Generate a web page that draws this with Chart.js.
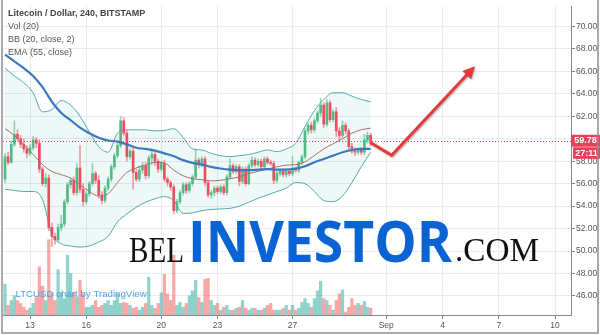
<!DOCTYPE html>
<html>
<head>
<meta charset="utf-8">
<script src="https://cdn.jsdelivr.net/npm/chart.js@4.4.0/dist/chart.umd.min.js"></script>
<style>
  html, body { margin: 0; padding: 0; background: #fff; }
  #wrap { width: 600px; height: 335px; }
</style>
</head>
<body>
<div id="wrap"><canvas id="chart" width="600" height="335"></canvas></div>
<script>
// 4h candles, first one at Aug 11 16:00 (x axis unit = day of August)
const startDay = 11 + 4 / 6;

const opens = [
  56.4, 58.4, 57.9, 59.5, 60.4, 60.0, 59.5, 59.1, 58.7, 59.2,
  59.9, 59.6, 57.3, 56.0, 56.5, 52.1, 51.3, 51.0, 52.1, 52.4,
  54.4, 55.9, 56.3, 55.2, 57.4, 55.5, 54.4, 55.1, 56.0, 56.9,
  56.3, 55.0, 54.5, 55.6, 56.4, 57.5, 58.5, 59.4, 61.6, 60.5,
  58.4, 58.9, 57.0, 56.4, 57.2, 57.6, 56.7, 58.3, 58.6, 58.0,
  57.3, 57.8, 56.4, 56.1, 55.7, 53.6, 54.4, 55.2, 55.9, 55.4,
  56.0, 56.6, 58.1, 57.7, 58.2, 56.1, 55.0, 55.2, 55.6, 55.3,
  55.7, 55.2, 56.6, 57.6, 57.1, 57.5, 56.2, 57.3, 56.0, 57.6,
  58.1, 57.7, 58.0, 57.5, 58.2, 57.9, 57.8, 56.3, 56.9, 57.1,
  56.8, 57.1, 56.9, 57.3, 57.2, 57.9, 58.4, 60.7, 61.2, 60.8,
  61.6, 62.3, 63.0, 61.3, 63.2, 61.7, 62.4, 60.7, 60.3, 61.2,
  60.7, 59.3, 58.9, 58.8, 59.0, 58.8, 59.9, 60.3
];
const highs = [
  58.7, 58.8, 59.8, 61.6, 60.8, 60.3, 60.0, 59.4, 59.5, 60.2,
  60.1, 59.9, 57.5, 56.9, 56.8, 52.5, 51.6, 52.4, 53.2, 54.6,
  56.1, 56.5, 56.6, 57.8, 59.4, 56.0, 55.3, 56.2, 57.8, 57.1,
  56.7, 55.3, 55.8, 56.6, 57.7, 58.7, 59.6, 62.0, 61.9, 60.7,
  59.1, 59.2, 57.3, 57.6, 57.9, 57.9, 58.5, 59.1, 58.8, 58.2,
  58.0, 58.1, 56.6, 56.3, 55.9, 54.6, 55.4, 56.1, 56.1, 56.2,
  56.8, 59.1, 58.3, 58.4, 58.4, 56.3, 55.4, 55.8, 55.8, 55.9,
  55.9, 56.8, 58.2, 57.8, 57.7, 57.7, 57.5, 57.5, 57.8, 58.4,
  58.3, 58.2, 58.2, 58.4, 58.4, 58.1, 58.0, 57.1, 57.3, 57.3,
  57.3, 57.3, 58.4, 57.5, 58.0, 58.6, 60.9, 61.4, 61.5, 61.8,
  62.5, 63.6, 63.2, 63.5, 63.4, 62.6, 62.8, 61.0, 61.6, 61.4,
  60.9, 59.6, 59.2, 59.2, 59.2, 60.4, 60.6, 60.5
];
const lows = [
  56.1, 57.7, 57.8, 59.3, 59.8, 59.2, 58.8, 58.3, 58.5, 59.0,
  59.2, 57.0, 55.8, 55.7, 51.8, 50.4, 50.6, 50.8, 51.8, 52.2,
  54.2, 55.6, 55.0, 55.0, 55.2, 54.0, 54.2, 54.9, 55.8, 56.0,
  54.7, 54.2, 54.3, 55.4, 56.2, 57.3, 58.3, 59.2, 60.3, 58.0,
  58.2, 55.5, 56.2, 56.2, 56.9, 56.4, 56.5, 57.7, 57.6, 57.0,
  57.1, 56.2, 55.8, 55.4, 53.3, 53.4, 54.2, 55.0, 55.1, 55.2,
  55.8, 56.4, 57.4, 57.5, 55.8, 54.8, 54.7, 54.9, 55.1, 55.1,
  55.0, 55.0, 56.4, 56.9, 56.9, 55.8, 56.0, 55.8, 55.9, 57.4,
  57.5, 57.5, 57.3, 57.4, 57.7, 57.6, 56.0, 56.1, 56.7, 56.6,
  56.6, 56.7, 56.7, 57.0, 57.0, 57.7, 58.2, 60.4, 60.5, 60.6,
  61.4, 62.0, 61.0, 61.1, 61.5, 61.5, 60.2, 59.9, 60.1, 60.4,
  59.0, 58.7, 58.5, 58.6, 58.6, 58.6, 59.6, 59.4
];
const closes = [
  58.4, 57.9, 59.5, 60.4, 60.0, 59.5, 59.1, 58.7, 59.2, 59.9,
  59.6, 57.3, 56.0, 56.5, 52.1, 51.3, 51.0, 52.1, 52.4, 54.4,
  55.9, 56.3, 55.2, 57.4, 55.5, 54.4, 55.1, 56.0, 56.9, 56.3,
  55.0, 54.5, 55.6, 56.4, 57.5, 58.5, 59.4, 61.6, 60.5, 58.4,
  58.9, 57.0, 56.4, 57.2, 57.6, 56.7, 58.3, 58.6, 58.0, 57.3,
  57.8, 56.4, 56.1, 55.7, 53.6, 54.4, 55.2, 55.9, 55.4, 56.0,
  56.6, 58.1, 57.7, 58.2, 56.1, 55.0, 55.2, 55.6, 55.3, 55.7,
  55.2, 56.6, 57.6, 57.1, 57.5, 56.2, 57.3, 56.0, 57.6, 58.1,
  57.7, 58.0, 57.5, 58.2, 57.9, 57.8, 56.3, 56.9, 57.1, 56.8,
  57.1, 56.9, 57.3, 57.2, 57.9, 58.4, 60.7, 61.2, 60.8, 61.6,
  62.3, 63.0, 61.3, 63.2, 61.7, 62.4, 60.7, 60.3, 61.2, 60.7,
  59.3, 58.9, 58.8, 59.0, 58.8, 59.9, 60.3, 59.78
];
const volumes = [
  32, 10, 15, 20, 15, 12, 8, 5, 7, 12,
  18, 50, 30, 15, 78, 23, 15, 47, 23, 17,
  62, 43, 23, 18, 36, 22, 8, 8, 10, 15,
  8, 10, 12, 15, 10, 15, 22, 12, 13, 12,
  10, 7, 8, 5, 8, 12, 39, 10, 7, 12,
  23, 42, 22, 15, 62, 10, 13, 8, 12, 20,
  25, 36, 18, 13, 37, 38, 15, 10, 12, 5,
  8, 10, 5, 5, 7, 8, 15, 7, 5, 7,
  7, 5, 5, 7, 10, 12, 5, 5, 5, 7,
  10, 5, 10, 5, 7, 13, 17, 12, 8, 17,
  25, 35, 17, 15, 10, 5, 15, 22, 26, 3,
  8, 17, 10, 12, 10, 14, 8, 7
];

// indicators read every 3 candles (half a day)
const bbUpper = [
  66.3, 65.6, 65.0, 64.1, 62.4, 62.6, 63.4, 63.0, 62.0, 60.6,
  59.3, 58.8, 60.5, 60.8, 60.8, 60.8, 60.7, 60.75, 60.9, 60.1,
  59.1, 59.0, 58.7, 58.5, 58.4, 58.5, 58.6, 58.8, 59.0, 58.85,
  59.1, 59.6, 61.1, 62.5, 63.5, 64.1, 64.1, 63.8, 63.5, 63.3
];
const bbBasis = [
  60.9, 60.3, 59.5, 58.6, 57.7, 57.1, 56.8, 56.5, 55.9, 55.3,
  54.9, 55.1, 56.1, 57.0, 57.4, 57.65, 57.9, 57.85, 57.2, 56.7,
  56.45, 56.35, 56.25, 56.3, 56.45, 56.6, 56.9, 57.1, 57.3, 57.5,
  57.65, 57.7, 57.95, 58.5, 59.1, 59.55, 60.0, 60.5, 60.8, 60.95
];
const bbLower = [
  55.5, 55.4, 55.3, 55.3, 54.6, 51.5, 50.65, 50.45, 50.35, 50.45,
  50.8, 51.3, 52.6, 53.3, 53.9, 54.35, 54.65, 54.85, 54.5, 53.35,
  53.4, 53.6, 53.7, 53.75, 53.8, 54.0, 54.35, 54.7, 55.0, 55.3,
  55.6, 56.1, 56.0, 55.3, 54.5, 54.4, 54.9, 56.1, 57.5, 58.8
];
const ema55 = [
  67.5, 66.9, 66.3, 65.6, 64.6, 63.3, 62.3, 61.65, 61.0, 60.5,
  60.1, 59.85, 59.75, 59.5, 59.2, 59.1, 58.95, 58.7, 58.45, 58.1,
  57.85, 57.7, 57.5, 57.35, 57.25, 57.2, 57.2, 57.25, 57.3, 57.25,
  57.25, 57.35, 57.55, 57.9, 58.2, 58.5, 58.8, 59.0, 59.1, 59.1
];

const yTicks = [46, 48, 50, 52, 54, 56, 58, 60, 62, 64, 66, 68, 70];
const xTickDays = [13, 16, 20, 23, 27, 32, 35, 38, 41];
const xTickLabels = ['13', '16', '20', '23', '27', 'Sep', '4', '7', '10'];

const lastPrice = 59.78;
const countdown = '27:11';
const arrowDays = [31.13, 32.29, 36.73];
const arrowPrices = [59.69, 58.52, 66.46];

const UP = '#53b987';
const DOWN = '#eb4d5c';
const RED = '#e8415a';
const FONT = '"Liberation Sans", Arial, sans-serif';

const candleDay = i => startDay + i / 6;
const lineDay = k => startDay + k / 2;
const isUp = i => closes[i] >= opens[i];

const overlay = {
  id: 'overlay',
  afterDatasetsDraw(chart) {
    const { ctx, chartArea: a, scales: { x, y } } = chart;

    // last price dotted line
    const py = Math.round(y.getPixelForValue(lastPrice)) + 0.5;
    ctx.save();
    ctx.strokeStyle = RED;
    ctx.lineWidth = 1;
    ctx.setLineDash([1, 2]);
    ctx.beginPath();
    ctx.moveTo(a.left, py);
    ctx.lineTo(a.right, py);
    ctx.stroke();
    ctx.restore();

    // forecast arrow
    const pts = arrowDays.map((d, i) => [x.getPixelForValue(d), y.getPixelForValue(arrowPrices[i])]);
    const tip = pts[pts.length - 1];
    const prev = pts[pts.length - 2];
    const len = Math.hypot(tip[0] - prev[0], tip[1] - prev[1]);
    const ux = (tip[0] - prev[0]) / len, uy = (tip[1] - prev[1]) / len;
    const head = 12, half = 6;
    const bx = tip[0] - ux * head, by = tip[1] - uy * head;
    ctx.save();
    ctx.shadowColor = 'rgba(0,0,0,0.3)';
    ctx.shadowBlur = 2;
    ctx.shadowOffsetX = 1;
    ctx.shadowOffsetY = 1;
    ctx.strokeStyle = '#e53b3b';
    ctx.fillStyle = '#e53b3b';
    ctx.lineWidth = 3;
    ctx.lineJoin = 'miter';
    ctx.beginPath();
    ctx.moveTo(pts[0][0], pts[0][1]);
    for (let i = 1; i < pts.length - 1; i++) ctx.lineTo(pts[i][0], pts[i][1]);
    ctx.lineTo(bx + ux * 2, by + uy * 2);
    ctx.stroke();
    ctx.beginPath();
    ctx.moveTo(tip[0], tip[1]);
    ctx.lineTo(bx - uy * half, by + ux * half);
    ctx.lineTo(bx + uy * half, by - ux * half);
    ctx.closePath();
    ctx.fill();
    ctx.restore();
  },
  afterDraw(chart) {
    const { ctx, scales: { y } } = chart;
    ctx.save();

    // legend
    ctx.textBaseline = 'middle';
    ctx.textAlign = 'left';
    ctx.fillStyle = '#444';
    ctx.font = 'bold 9px ' + FONT;
    ctx.fillText('Litecoin / Dollar, 240, BITSTAMP', 8, 14);
    ctx.fillStyle = '#555';
    ctx.font = '9px ' + FONT;
    ctx.fillText('Vol (20)', 8, 26.5);
    ctx.fillText('BB (20, close, 2)', 8, 39.5);
    ctx.fillText('EMA (55, close)', 8, 52.5);

    ctx.fillStyle = '#4aa3e4';
    ctx.font = '9.7px ' + FONT;
    ctx.fillText('LTCUSD chart by TradingView', 15.5, 294);

    // watermark
    const word = (text, font, color, left, base, width) => {
      ctx.font = font;
      ctx.fillStyle = color;
      const w = ctx.measureText(text).width;
      ctx.save();
      ctx.translate(left, base);
      ctx.scale(width / w, 1);
      ctx.textBaseline = 'alphabetic';
      ctx.fillText(text, 0, 0);
      ctx.restore();
    };
    word('BEL', '35px "Liberation Serif", serif', '#111', 129, 262, 55);
    word('INVESTOR', 'bold 57px "Open Sans", sans-serif', '#0a63d3', 188, 262, 264);
    word('.COM', '33px "Liberation Serif", serif', '#111', 455, 261, 84);

    // last price / countdown tags
    const py = y.getPixelForValue(lastPrice);
    ctx.fillStyle = RED;
    ctx.fillRect(571, py - 6.5, 29, 12);
    ctx.fillRect(573, py + 6, 27, 11.5);
    ctx.fillStyle = '#fff';
    ctx.font = 'bold 9px ' + FONT;
    ctx.textAlign = 'center';
    ctx.textBaseline = 'middle';
    ctx.fillText(lastPrice.toFixed(2), 585.5, py - 0.5);
    ctx.fillText(countdown, 586.5, py + 12);

    // frame
    ctx.strokeStyle = '#8f8f8f';
    ctx.lineWidth = 1.5;
    ctx.beginPath();
    ctx.moveTo(2, 0);
    ctx.lineTo(2, 333);
    ctx.lineTo(598, 333);
    ctx.lineTo(598, 0);
    ctx.stroke();
    ctx.restore();
  }
};

new Chart(document.getElementById('chart'), {
  type: 'bar',
  data: {
    datasets: [
      {
        label: 'Vol',
        yAxisID: 'yv',
        data: volumes.map((v, i) => ({ x: candleDay(i), y: v })),
        backgroundColor: volumes.map((v, i) => isUp(i) ? 'rgba(38,166,154,0.5)' : 'rgba(239,83,80,0.5)'),
        barThickness: 2.6,
        order: 10
      },
      {
        type: 'line',
        label: 'BB upper',
        data: bbUpper.map((v, k) => ({ x: lineDay(k), y: v })),
        borderColor: '#55aaa8',
        borderWidth: 1,
        backgroundColor: 'rgba(38,166,154,0.08)',
        fill: '+1',
        pointRadius: 0,
        cubicInterpolationMode: 'monotone',
        order: 9
      },
      {
        type: 'line',
        label: 'BB lower',
        data: bbLower.map((v, k) => ({ x: lineDay(k), y: v })),
        borderColor: '#55aaa8',
        borderWidth: 1,
        pointRadius: 0,
        cubicInterpolationMode: 'monotone',
        order: 9
      },
      {
        label: 'wicks',
        data: highs.map((h, i) => ({ x: candleDay(i), y: [lows[i], h] })),
        backgroundColor: highs.map((h, i) => isUp(i) ? 'rgba(83,185,135,0.6)' : 'rgba(235,77,92,0.55)'),
        barThickness: 1,
        order: 6
      },
      {
        label: 'bodies',
        data: opens.map((o, i) => ({ x: candleDay(i), y: [o, closes[i]] })),
        backgroundColor: opens.map((o, i) => isUp(i) ? UP : DOWN),
        barThickness: 2,
        minBarLength: 1,
        order: 5
      },
      {
        type: 'line',
        label: 'BB basis',
        data: bbBasis.map((v, k) => ({ x: lineDay(k), y: v })),
        borderColor: '#a86f66',
        borderWidth: 1,
        pointRadius: 0,
        cubicInterpolationMode: 'monotone',
        order: 4
      },
      {
        type: 'line',
        label: 'EMA 55',
        data: ema55.map((v, k) => ({ x: lineDay(k), y: v })),
        borderColor: '#3b78bd',
        borderWidth: 2.2,
        pointRadius: 0,
        cubicInterpolationMode: 'monotone',
        order: 3
      }
    ]
  },
  options: {
    responsive: false,
    animation: false,
    devicePixelRatio: 1,
    layout: { padding: { left: 3, right: 0, top: 2, bottom: 2 } },
    datasets: { bar: { grouped: false, borderWidth: 0, borderSkipped: false } },
    plugins: { legend: { display: false }, tooltip: { enabled: false } },
    scales: {
      x: {
        type: 'linear',
        min: 11.56,
        max: 41.853,
        offset: false,
        grid: { color: '#e6ecf1', offset: false, tickLength: 4, tickColor: '#888' },
        border: { color: '#888' },
        ticks: {
          font: { size: 8.5, family: FONT },
          color: '#555',
          padding: 2,
          maxRotation: 0,
          autoSkip: false,
          callback: (v, i) => xTickLabels[i]
        },
        afterBuildTicks: s => { s.ticks = xTickDays.map(v => ({ value: v })); },
        afterFit: s => { s.height = 18; }
      },
      y: {
        type: 'linear',
        position: 'right',
        min: 44.30,
        max: 71.82,
        grid: { color: '#e6ecf1', tickLength: 4, tickColor: '#888' },
        border: { color: '#888' },
        ticks: {
          font: { size: 8.5, family: FONT },
          color: '#555',
          padding: 1,
          callback: v => v.toFixed(2)
        },
        afterBuildTicks: s => { s.ticks = yTicks.map(v => ({ value: v })); },
        afterFit: s => { s.width = 29; }
      },
      yv: { type: 'linear', display: false, min: 0, max: 320 }
    }
  },
  plugins: [overlay]
});
</script>
</body>
</html>
